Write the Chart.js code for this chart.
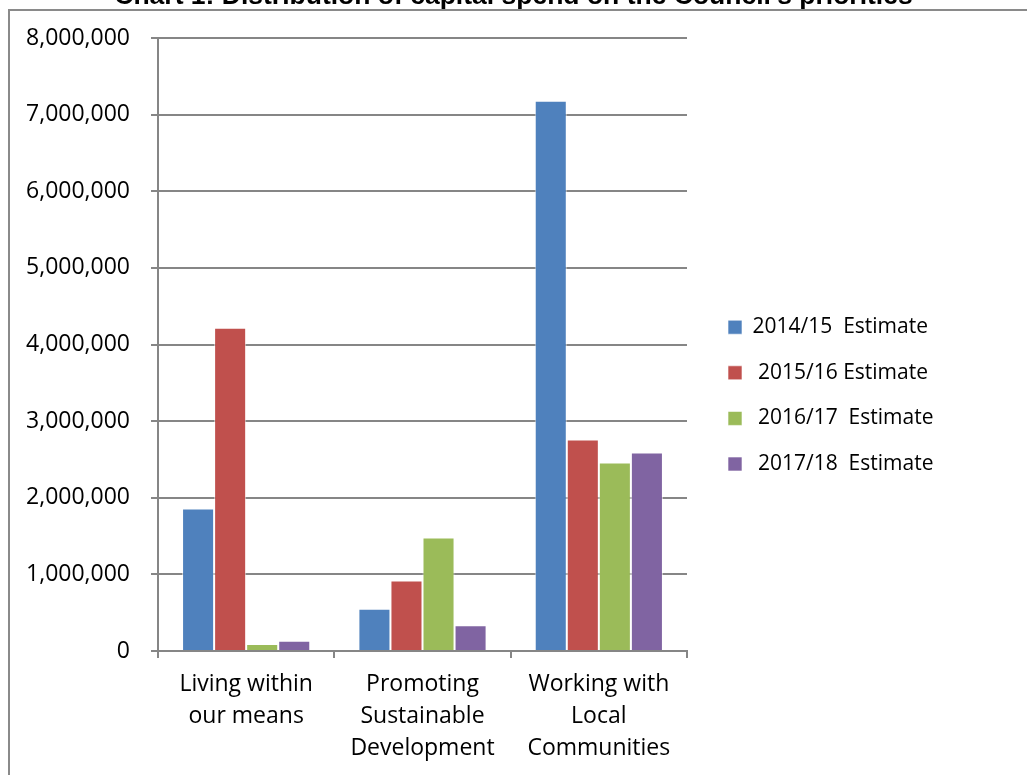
<!DOCTYPE html>
<html>
<head>
<meta charset="utf-8">
<script src="https://cdn.jsdelivr.net/npm/chart.js@4.4.1/dist/chart.umd.min.js"></script>
<style>
    html, body { margin: 0; padding: 0; background: #fff; overflow: hidden; }
    body { width: 1027px; height: 775px; position: relative; }
    /* marco del gráfico, se sale por la derecha y por abajo */
    #frame { position: absolute; left: 8px; top: 9px; width: 1200px; height: 1000px;
             border: 2px solid #8a8a8a; box-sizing: border-box; }
    #wrap { position: absolute; left: 0; top: -30px; width: 1027px; height: 805px; }
</style>
</head>
<body>
<div id="frame"></div>
<div id="wrap"><canvas id="myChart"></canvas></div>
<script>
// Datos del gráfico
const categorias = [
    ['Living within', 'our means'],
    ['Promoting', 'Sustainable', 'Development'],
    ['Working with', 'Local', 'Communities']
];
const seriesLabels = ['2014/15  Estimate', ' 2015/16 Estimate', ' 2016/17  Estimate', ' 2017/18  Estimate'];
const est1415 = [1860000, 550000, 7180000];
const est1516 = [4220000, 920000, 2760000];
const est1617 = [90000, 1480000, 2460000];
const est1718 = [135000, 335000, 2590000];
const colores = ['#4F81BD', '#C0504D', '#9BBB59', '#8064A2'];
const yMin = 0;
const yMax = 8000000;
const yStep = 1000000;

const gridColor = '#868686';

Chart.defaults.font.family = "'Open Sans', sans-serif";
Chart.defaults.color = '#000';

// Plugin para fijar el ancho y la posición de la leyenda
const legendPlacer = {
    id: 'legendPlacer',
    beforeLayout(chart) {
        const legend = chart.legend;
        if (legend && !legend._patched) {
            const fitOrig = legend.fit;
            legend.fit = function () {
                fitOrig.call(this);
                this.width = 340;
            };
            legend._patched = true;
        }
    },
    afterLayout(chart) {
        const legend = chart.legend;
        const pad = legend.options.labels.padding;
        legend.left = 728 - pad;
        legend.right = 1027;
        legend.top = 346.7 - pad;
        legend.bottom = 805;
    }
};

const datasets = [est1415, est1516, est1617, est1718].map((data, i) => ({
    label: seriesLabels[i],
    data: data,
    backgroundColor: colores[i],
    borderColor: 'rgba(255,255,255,0.6)',
    borderWidth: 1,
    categoryPercentage: 0.727,
    barPercentage: 1
}));

const config = {
    type: 'bar',
    data: { labels: categorias, datasets: datasets },
    options: {
        responsive: true,
        maintainAspectRatio: false,
        animation: false,
        layout: { padding: 0 },
        plugins: {
            title: {
                display: true,
                text: "Chart 1: Distribution of capital spend on the Council's priorities",
                font: { family: "'Liberation Sans', Arial, sans-serif", size: 26.5, weight: 'bold', lineHeight: 1.2 },
                color: '#000',
                padding: { top: 10.4, bottom: 25.8 }
            },
            legend: {
                position: 'right',
                align: 'start',
                labels: {
                    boxWidth: 14,
                    boxHeight: 14,
                    padding: 24.6,
                    font: { size: 21 },
                    color: '#000'
                }
            },
            tooltip: { enabled: false }
        },
        scales: {
            x: {
                grid: { drawOnChartArea: false, drawTicks: true, tickLength: 7, color: gridColor, lineWidth: 2, offset: true },
                border: { color: gridColor, width: 2 },
                ticks: {
                    font: { size: 23, lineHeight: 1.4 },
                    color: '#000',
                    padding: 10,
                    maxRotation: 0,
                    autoSkip: false
                },
                afterFit(scale) { scale.height = 124; }
            },
            y: {
                min: yMin,
                max: yMax,
                grid: { color: gridColor, lineWidth: 2, tickLength: 7 },
                border: { color: gridColor, width: 2 },
                ticks: {
                    stepSize: yStep,
                    font: { size: 23 },
                    color: '#000',
                    padding: 21,
                    callback: (v) => Number(v).toLocaleString('en-US')
                },
                afterFit(scale) { scale.width = 158; }
            }
        }
    },
    plugins: [legendPlacer]
};

// Crear el gráfico
const ctx = document.getElementById('myChart').getContext('2d');
const myChart = new Chart(ctx, config);
</script>
</body>
</html>
